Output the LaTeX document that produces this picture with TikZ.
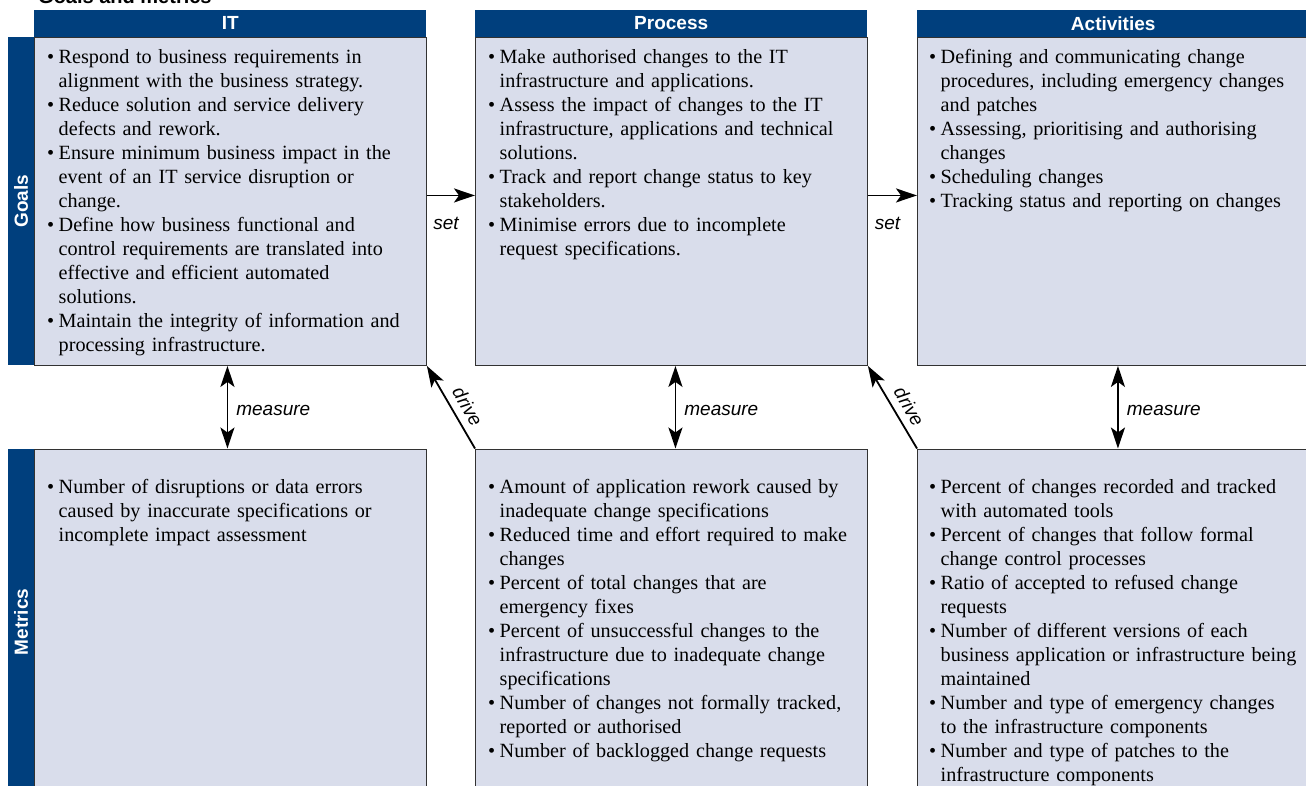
\documentclass[tikz,border=0pt]{standalone}
\usepackage{fontspec}
\setmainfont{Liberation Serif}
\setsansfont{Liberation Sans}
\usetikzlibrary{arrows.meta}
\definecolor{cobblue}{RGB}{0,63,125}
\definecolor{cobfill}{RGB}{217,221,235}
\definecolor{cobline}{RGB}{50,50,50}
\newcommand\fitem{\hangindent=11.5pt\hangafter=1\noindent\makebox[11.5pt][l]{\textbullet}}
\newcommand\bitem{\par\fitem}
\newcommand\tstart{\raggedright\parskip=0pt\relax}
\tikzset{
  gbox/.style={draw=cobline, line width=0.9pt, fill=cobfill, inner sep=0pt, anchor=north west},
  bar/.style={fill=cobblue, inner sep=0pt, anchor=north east, minimum width=26pt},
  hdr/.style={fill=cobblue, inner sep=0pt, anchor=south west, minimum width=392pt, minimum height=27pt,
    text=white, font=\sffamily\bfseries\fontsize{19}{22}\selectfont},
  sidelbl/.style={rotate=90, text=white, font=\sffamily\bfseries\fontsize{19}{22}\selectfont, inner sep=0pt},
  txt/.style={anchor=base west, inner sep=0pt, text width=385pt,
    font=\fontsize{20.2}{24}\selectfont},
  lbl/.style={font=\sffamily\itshape\fontsize{19}{22}\selectfont, inner sep=3pt},
  tip/.tip={Stealth[length=21pt,width=14pt,inset=5pt]},
  arr/.style={line width=1.8pt, -tip},
  darr/.style={line width=1.8pt, tip-tip}
}
\begin{document}
\begin{tikzpicture}[x=1pt,y=-1pt]
\useasboundingbox (0,0) rectangle (1306,785);
% title (cut off)
\node[anchor=base west, inner sep=0pt, font=\sffamily\bfseries\fontsize{20}{22}\selectfont] (title) at (38,3) {Goals and metrics};
% top boxes
\node[gbox, minimum width=392pt, minimum height=328pt] (itg) at (34,37) {};
\node[gbox, minimum width=392pt, minimum height=328pt] (procg) at (475,37) {};
\node[gbox, minimum width=392pt, minimum height=328pt] (actg) at (917,37) {};
% bottom boxes
\node[gbox, minimum width=392pt, minimum height=360pt] (itm) at (34,448.5) {};
\node[gbox, minimum width=392pt, minimum height=360pt] (procm) at (475,448.5) {};
\node[gbox, minimum width=392pt, minimum height=360pt] (actm) at (917,448.5) {};
% headers
\node[hdr] (ith) at (itg.north west) {IT};
\node[hdr] (proch) at (procg.north west) {Process};
\node[hdr] (acth) at (actg.north west) {Activities};
% side bars
\node[bar, minimum height=328pt] (goalsbar) at (itg.north west) {};
\node[bar, minimum height=360pt] (metbar) at (itm.north west) {};
\node[sidelbl] (goalslbl) at (21,201) {Goals};
\node[sidelbl] (metlbl) at (21,622) {Metrics};
% texts top
\node[txt] (itgt) at (47,63.5) {\tstart%
\fitem Respond to business requirements in\newline alignment with the business strategy.
\bitem Reduce solution and service delivery\newline defects and rework.
\bitem Ensure minimum business impact in the\newline event of an IT service disruption or\newline change.
\bitem Define how business functional and\newline control requirements are translated into\newline effective and efficient automated\newline solutions.
\bitem Maintain the integrity of information and\newline processing infrastructure.\par};
\node[txt] (procgt) at (488,63.5) {\tstart%
\fitem Make authorised changes to the IT\newline infrastructure and applications.
\bitem Assess the impact of changes to the IT\newline infrastructure, applications and technical\newline solutions.
\bitem Track and report change status to key\newline stakeholders.
\bitem Minimise errors due to incomplete\newline request specifications.\par};
\node[txt] (actgt) at (929,63.5) {\tstart%
\fitem Defining and communicating change\newline procedures, including emergency changes\newline and patches
\bitem Assessing, prioritising and authorising\newline changes
\bitem Scheduling changes
\bitem Tracking status and reporting on changes\par};
% texts bottom
\node[txt] (itmt) at (47,493.5) {\tstart%
\fitem Number of disruptions or data errors\newline caused by inaccurate specifications or\newline incomplete impact assessment\par};
\node[txt] (procmt) at (488,493.5) {\tstart%
\fitem Amount of application rework caused by\newline inadequate change specifications
\bitem Reduced time and effort required to make\newline changes
\bitem Percent of total changes that are\newline emergency fixes
\bitem Percent of unsuccessful changes to the\newline infrastructure due to inadequate change\newline specifications
\bitem Number of changes not formally tracked,\newline reported or authorised
\bitem Number of backlogged change requests\par};
\node[txt] (actmt) at (929,493.5) {\tstart%
\fitem Percent of changes recorded and tracked\newline with automated tools
\bitem Percent of changes that follow formal\newline change control processes
\bitem Ratio of accepted to refused change\newline requests
\bitem Number of different versions of each\newline business application or infrastructure being\newline maintained
\bitem Number and type of emergency changes\newline to the infrastructure components
\bitem Number and type of patches to the\newline infrastructure components\par};
% set arrows
\draw[arr] ([yshift=6pt]itg.east) -- ([yshift=6pt]procg.west) node[midway, below, lbl, yshift=-18pt, xshift=-5pt] (set1) {set};
\draw[arr] ([yshift=6pt]procg.east) -- ([yshift=6pt]actg.west) node[midway, below, lbl, yshift=-18pt, xshift=-5pt] (set2) {set};
% measure arrows
\draw[darr] ([xshift=-3pt]itg.south) -- ([xshift=-3pt]itm.north) node[midway, right, lbl, xshift=5pt, yshift=-3pt] (m1) {measure};
\draw[darr] ([xshift=4pt]procg.south) -- ([xshift=4pt]procm.north) node[midway, right, lbl, xshift=5pt, yshift=-3pt] (m2) {measure};
\draw[darr] ([xshift=4.5pt]actg.south) -- ([xshift=4.5pt]actm.north) node[midway, right, lbl, xshift=5pt, yshift=-3pt] (m3) {measure};
% drive arrows
\draw[arr] (procm.north west) -- (itg.south east) node[pos=0.42, rotate=-60, anchor=south, lbl, inner sep=7pt] (d1) {drive};
\draw[arr] (actm.north west) -- (procg.south east) node[pos=0.42, rotate=-60, anchor=south, lbl, inner sep=7pt] (d2) {drive};
\end{tikzpicture}
\end{document}
